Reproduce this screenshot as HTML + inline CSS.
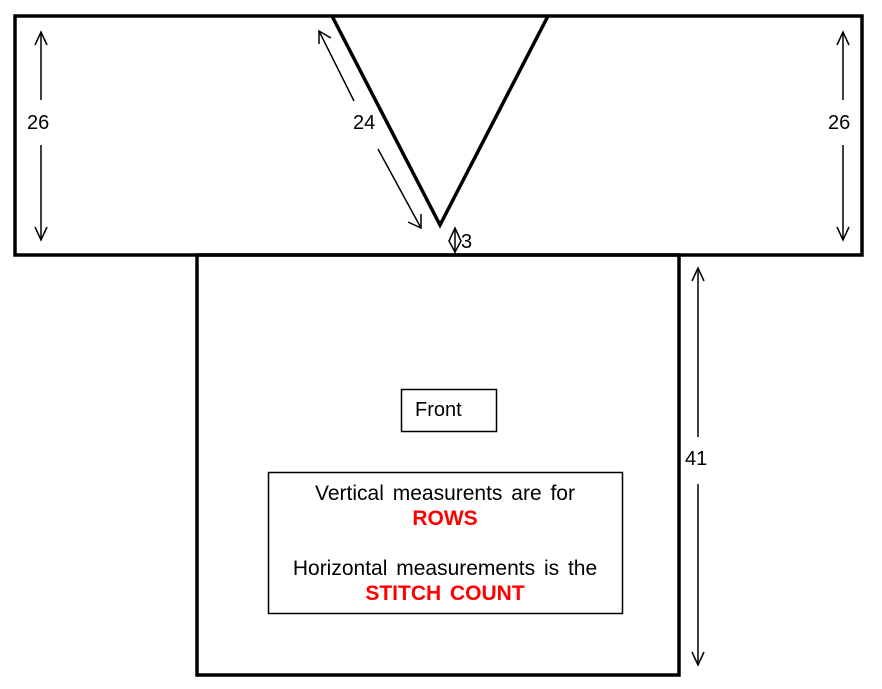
<!DOCTYPE html>
<html><head><meta charset="utf-8"><style>
html,body{margin:0;padding:0;background:#fff;}
svg{display:block;}
text{font-family:"Liberation Sans",Arial,sans-serif;font-size:20px;}
.n{font-size:21px;word-spacing:3px;}
</style></head><body>
<svg width="882" height="689" viewBox="0 0 882 689" xmlns="http://www.w3.org/2000/svg">
<rect width="882" height="689" fill="#fff"/>
<g fill="none" stroke="#000" stroke-width="3.5">
<rect x="15" y="16" width="847" height="239"/>
<rect x="197" y="255" width="482" height="420"/>
<polyline points="332,16 440,225 548,16"/>
</g>
<g fill="none" stroke="#000" stroke-width="1.5">
<rect x="401.5" y="389.5" width="95" height="42"/>
<rect x="268.5" y="472.5" width="354" height="141"/>
<line x1="41" y1="32" x2="41" y2="100"/><line x1="41" y1="145" x2="41" y2="240"/>
<polyline points="35,45 41,32 47,45"/><polyline points="35,227 41,240 47,227"/>
<line x1="843" y1="32" x2="843" y2="100"/><line x1="843" y1="145" x2="843" y2="240"/>
<polyline points="837,45 843,32 849,45"/><polyline points="837,227 843,240 849,227"/>
<line x1="698" y1="268" x2="698" y2="437"/><line x1="698" y1="484" x2="698" y2="665"/>
<polyline points="692,281 698,268 704,281"/><polyline points="692,652 698,665 704,652"/>
<line x1="319" y1="31" x2="354" y2="101"/><line x1="378" y1="149" x2="421" y2="228"/>
<polyline points="319,44 319,31 331,38"/><polyline points="408,222 421,228 421,214"/>
<line x1="455" y1="228" x2="455" y2="255"/>
<polygon points="455,228 461,241 455,252 449,241"/>
</g>
<text x="27" y="129">26</text>
<text x="828" y="129">26</text>
<text x="353" y="129">24</text>
<text x="461" y="248" font-size="18">3</text>
<text x="685" y="465">41</text>
<text x="415" y="416">Front</text>
<text class="n" x="445" y="500" text-anchor="middle">Vertical measurents are for</text>
<text class="n" x="445" y="525" text-anchor="middle" fill="#f00" font-weight="bold">ROWS</text>
<text class="n" x="445" y="575" text-anchor="middle">Horizontal measurements is the</text>
<text class="n" x="445" y="600" text-anchor="middle" fill="#f00" font-weight="bold">STITCH COUNT</text>
</svg>
</body></html>
